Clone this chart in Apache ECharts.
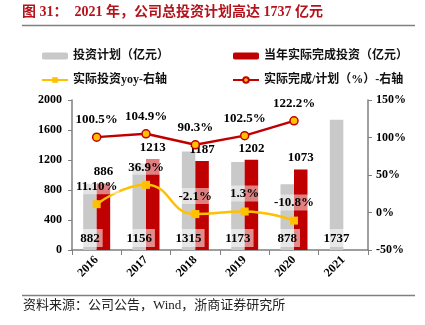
<!DOCTYPE html>
<html>
<head>
<meta charset="utf-8">
<script src="https://cdn.jsdelivr.net/npm/echarts@6/dist/echarts.min.js"></script>
<style>html,body{margin:0;padding:0;background:#fff;}#c{width:425px;height:325px;}</style>
</head>
<body>
<div id="c"></div>
<script>
const categories = ['2016', '2017', '2018', '2019', '2020', '2021'];
const planValues = [882, 1156, 1315, 1173, 878, 1737];
const actualValues = [886, 1213, 1187, 1202, 1073, '-'];
const yoyValues = [11.10, 36.9, -2.1, 1.3, -10.8, '-'];
const yoyLabels = ['11.10%', '36.9%', '-2.1%', '1.3%', '-10.8%', ''];
const ratioValues = [100.5, 104.9, 90.3, 102.5, 122.2, '-'];
const ratioLabels = ['100.5%', '104.9%', '90.3%', '102.5%', '122.2%', ''];
const leftTicks = {min: 0, max: 2000, interval: 400};
const rightTicks = {min: -50, max: 150, interval: 50};

const serif = '"Liberation Serif", "Noto Sans CJK SC", serif';
const cjk = '"Liberation Serif", "Noto Sans CJK SC", sans-serif';
const RED = '#C00000', GRAY = '#C9C9C9', YEL = '#FFC000';
const chart = echarts.init(document.getElementById('c'), null, {renderer: 'canvas'});
const valLabel = {fontFamily: serif, fontWeight: 'bold', fontSize: 13, color: '#000'};
chart.setOption({
  animation: false,
  backgroundColor: '#fff',
  graphic: [
    {type: 'text', left: 22, top: 5, style: {text: '图 31：  2021 年，公司总投资计划高达 1737 亿元', font: 'bold 14px ' + cjk, fill: '#B5121B'}},
    {type: 'line', shape: {x1: 22, y1: 25.5, x2: 415, y2: 25.5}, style: {stroke: '#7f7f7f', lineWidth: 1.5}},
    {type: 'line', shape: {x1: 22, y1: 295.5, x2: 415, y2: 295.5}, style: {stroke: '#7f7f7f', lineWidth: 1.5}},
    {type: 'text', left: 23, top: 299, style: {text: '资料来源：公司公告，Wind，浙商证券研究所', font: '13px ' + cjk, fill: '#222'}}
  ],
  legend: [
    {data: ['投资计划（亿元）', '实际投资yoy-右轴'], orient: 'vertical', left: 36, top: 45, itemWidth: 26, itemHeight: 7, itemGap: 12,
     textStyle: {fontFamily: cjk, fontSize: 12, fontWeight: 'bold', color: '#111'}},
    {data: ['当年实际完成投资（亿元）', '实际完成/计划（%）-右轴'], orient: 'vertical', left: 227, top: 45, itemWidth: 26, itemHeight: 7, itemGap: 12,
     textStyle: {fontFamily: cjk, fontSize: 12, fontWeight: 'bold', color: '#111'}}
  ],
  grid: {left: 72, right: 57, top: 100, bottom: 75},
  xAxis: {
    type: 'category', data: categories,
    axisLine: {lineStyle: {color: '#7f7f7f', width: 1.5}},
    axisTick: {show: true, alignWithLabel: false, length: 5, lineStyle: {color: '#7f7f7f'}},
    axisLabel: {rotate: 45, fontFamily: serif, fontWeight: 'bold', fontSize: 12, color: '#000', margin: 8}
  },
  yAxis: [
    {type: 'value', min: leftTicks.min, max: leftTicks.max, interval: leftTicks.interval,
     axisLine: {show: true, lineStyle: {color: '#7f7f7f', width: 1.5}},
     axisTick: {show: true, length: 4, lineStyle: {color: '#7f7f7f'}},
     splitLine: {show: false},
     axisLabel: {fontFamily: serif, fontWeight: 'bold', fontSize: 12, color: '#000', margin: 10, formatter: v => String(v)}},
    {type: 'value', min: rightTicks.min, max: rightTicks.max, interval: rightTicks.interval,
     axisLine: {show: true, lineStyle: {color: '#7f7f7f', width: 1.5}},
     axisTick: {show: true, length: 4, lineStyle: {color: '#7f7f7f'}},
     splitLine: {show: false},
     axisLabel: {fontFamily: serif, fontWeight: 'bold', fontSize: 12, color: '#000', margin: 8, formatter: v => v + '%'}}
  ],
  series: [
    {name: '投资计划（亿元）', type: 'bar', data: planValues, barWidth: 13.5, barGap: '0%',
     itemStyle: {color: GRAY}, z: 2,
     label: Object.assign({show: true, position: 'insideBottom', distance: 3, backgroundColor: 'rgba(255,255,255,0.55)', padding: [3, 3, 2, 3]}, valLabel)},
    {name: '当年实际完成投资（亿元）', type: 'bar', data: actualValues, barWidth: 13.5,
     itemStyle: {color: RED}, z: 2,
     label: Object.assign({show: true, position: 'top', distance: 5}, valLabel)},
    {name: '实际投资yoy-右轴', type: 'line', yAxisIndex: 1, data: yoyValues, smooth: true,
     symbol: 'rect', symbolSize: 8, lineStyle: {color: YEL, width: 2.5}, itemStyle: {color: YEL}, z: 5,
     label: Object.assign({show: true, position: 'top', distance: 6, backgroundColor: 'rgba(255,255,255,0.5)', padding: [2, 2, 1, 2],
       formatter: p => yoyLabels[p.dataIndex]}, valLabel)},
    {name: '实际完成/计划（%）-右轴', type: 'line', yAxisIndex: 1, data: ratioValues,
     symbol: 'circle', symbolSize: 8, lineStyle: {color: RED, width: 2.5},
     itemStyle: {color: YEL, borderColor: RED, borderWidth: 1.5}, z: 6,
     label: Object.assign({show: true, position: 'top', distance: 6,
       formatter: p => ratioLabels[p.dataIndex]}, valLabel)}
  ]
});
</script>
</body>
</html>
